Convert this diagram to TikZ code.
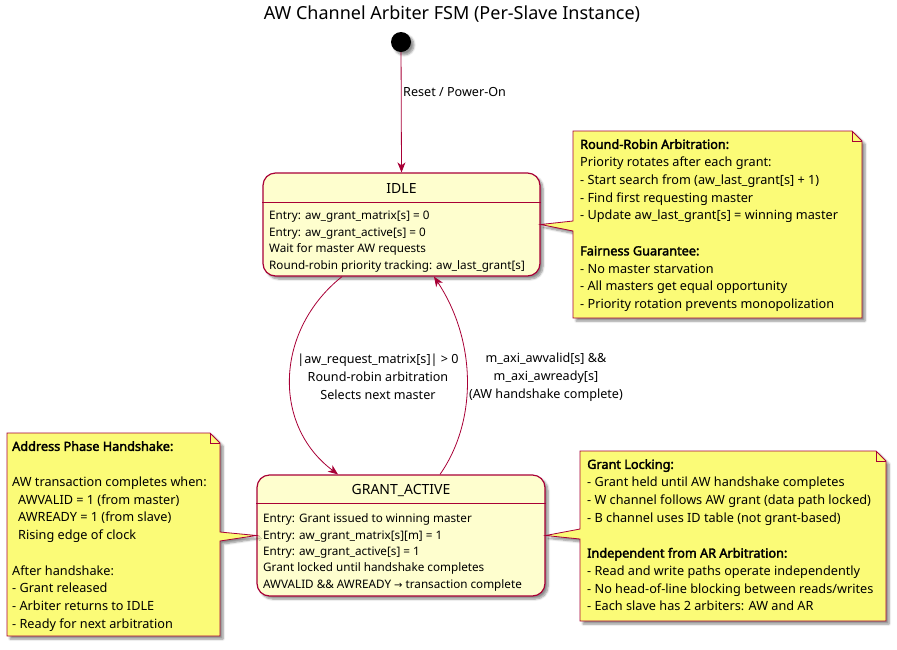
\documentclass[tikz,border=0pt]{standalone}
\usepackage{fontspec}
\setmainfont{Noto Sans}[AutoFakeBold=2.5]
\newfontfamily\dejavu{DejaVu Sans}
\usetikzlibrary{arrows.meta,shadows.blur}
\definecolor{stfill}{HTML}{FEFECE}
\definecolor{stline}{HTML}{A80036}
\definecolor{notefill}{HTML}{FBFB77}
\begin{document}
\begin{tikzpicture}[x=1pt,y=-1pt,
  shd/.style={blur shadow={shadow xshift=3pt,shadow yshift=-3pt,shadow blur steps=6,shadow opacity=45}},
  statebox/.style={draw=stline, line width=1.2pt, fill=stfill, rounded corners=12.5pt, inner sep=0pt, shd},
  notebox/.style={draw=stline, line width=0.8pt, fill=notefill, shd},
  conn/.style={draw=stline, line width=0.8pt, -{Stealth[length=10pt,width=8pt,inset=3pt]}},
  body/.style={font=\fontsize{11.7}{16.4}\selectfont, align=left, inner sep=0pt, anchor=west},
  notetext/.style={font=\fontsize{12.7}{17.75}\selectfont, align=left, inner sep=0pt, anchor=north west},
  lbl/.style={font=\fontsize{12.6}{18}\selectfont, align=center, inner sep=0pt},
  sname/.style={font=\fontsize{14}{16}\selectfont, inner sep=0pt}]
\useasboundingbox (0,0) rectangle (897,649);

% title
\node[font=\fontsize{18}{20}\selectfont, inner sep=0pt] (title) at (452,14) {AW Channel Arbiter FSM (Per-Slave Instance)};

% initial state
\node[circle, fill=black, minimum size=20pt, inner sep=0pt, shd] (start) at (401,42) {};

% states
\node[statebox, minimum width=277pt, minimum height=103pt] (idle) at (401.5,224.5) {};
\draw[stline, line width=1pt] (idle.west |- 0,202) -- (idle.east |- 0,202);
\node[sname] (idlename) at (401.5,188) {IDLE};
\node[body] (idlebody) at (269,241.5) {Entry: aw\_grant\_matrix[s] = 0\\Entry: aw\_grant\_active[s] = 0\\Wait for master AW requests\\Round-robin priority tracking: aw\_last\_grant[s]};

\node[statebox, minimum width=288pt, minimum height=121pt] (grant) at (401,535.5) {};
\draw[stline, line width=1pt] (grant.west |- 0,503) -- (grant.east |- 0,503);
\node[sname] (grantname) at (401,490) {GRANT\_ACTIVE};
\node[body] (grantbody) at (263,552.5) {Entry: Grant issued to winning master\\Entry: aw\_grant\_matrix[s][m] = 1\\Entry: aw\_grant\_active[s] = 1\\Grant locked until handshake completes\\AWVALID \&\& AWREADY {\dejavu\fontsize{10}{12}\selectfont →} transaction complete};

% connectors
\draw[conn] (start) -- (idle.north);
\node[lbl, anchor=west] (lreset) at (403,92) {Reset / Power-On};

\draw[conn] ([xshift=-59.5pt]idle.south) .. controls (275,330) and (272,425) .. ([xshift=-63pt]grant.north);
\draw[conn] ([xshift=39pt]grant.north) .. controls (478,420) and (476,340) .. ([xshift=32.5pt]idle.south);
\node[lbl] (l1) at (378,377) {|aw\_request\_matrix[s]| > 0\\Round-robin arbitration\\Selects next master};
\node[lbl] (l2) at (546,377) {m\_axi\_awvalid[s] \&\&\\m\_axi\_awready[s]\\(AW handshake complete)};

% note top right
\path[notebox] (573,131) -- (852,131) -- (862,141) -- (862,318) -- (573,318) -- (573,231) -- (idle.east) -- (573,221) -- cycle;
\draw[stline, line width=0.8pt] (852,131) -- (852,141) -- (862,141);
\node[notetext] (note1) at (580,139) {\textbf{Round-Robin Arbitration:}\\Priority rotates after each grant:\\- Start search from (aw\_last\_grant[s] + 1)\\- Find first requesting master\\- Update aw\_last\_grant[s] = winning master\\\strut\\\textbf{Fairness Guarantee:}\\- No master starvation\\- All masters get equal opportunity\\- Priority rotation prevents monopolization};

% note left
\path[notebox] (7,433) -- (210,433) -- (220,443) -- (220,532) -- (grant.west) -- (220,541) -- (220,636) -- (7,636) -- cycle;
\draw[stline, line width=0.8pt] (210,433) -- (210,443) -- (220,443);
\node[notetext] (note2) at (12,441) {\textbf{Address Phase Handshake:}\\\strut\\AW transaction completes when:\\\hspace*{6pt}AWVALID = 1 (from master)\\\hspace*{6pt}AWREADY = 1 (from slave)\\\hspace*{6pt}Rising edge of clock\\\strut\\After handshake:\\- Grant released\\- Arbiter returns to IDLE\\- Ready for next arbitration};

% note bottom right
\path[notebox] (580,451) -- (876,451) -- (886,461) -- (886,621) -- (580,621) -- (580,539) -- (grant.east) -- (580,529) -- cycle;
\draw[stline, line width=0.8pt] (876,451) -- (876,461) -- (886,461);
\node[notetext] (note3) at (587,459) {\textbf{Grant Locking:}\\- Grant held until AW handshake completes\\- W channel follows AW grant (data path locked)\\- B channel uses ID table (not grant-based)\\\strut\\\textbf{Independent from AR Arbitration:}\\- Read and write paths operate independently\\- No head-of-line blocking between reads/writes\\- Each slave has 2 arbiters: AW and AR};
\end{tikzpicture}
\end{document}
